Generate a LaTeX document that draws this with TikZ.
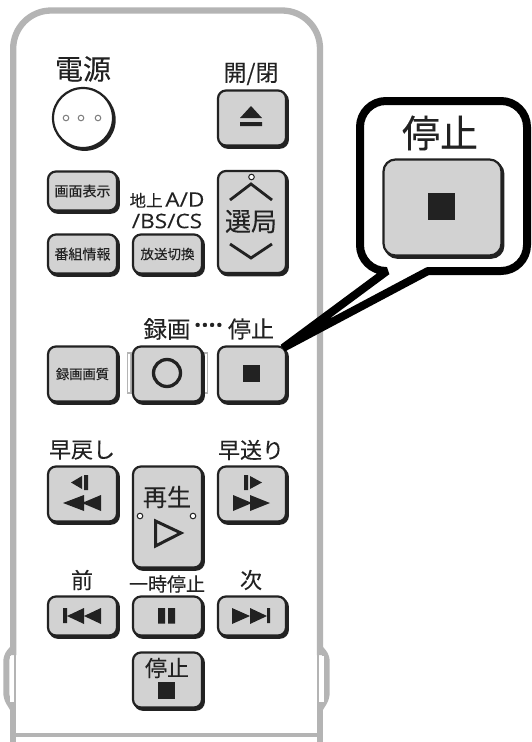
\documentclass[tikz,border=0pt]{standalone}
\usepackage{fontspec}
\setmainfont{Noto Sans CJK JP}[FakeBold=0.15]
\newfontfamily\latinfont{Open Sans}[FakeStretch=1.13,FakeBold=0.1]
\usetikzlibrary{shadows}
\definecolor{ink}{HTML}{222222}
\definecolor{keyfill}{HTML}{D2D2D2}
\definecolor{shell}{HTML}{B4B4B4}
\newcommand{\fs}[1]{\fontsize{#1}{#1}\selectfont}
\tikzset{
  x=1pt,y=-1pt,
  keybtn/.style={draw=ink,line width=2.2pt,fill=keyfill,rounded corners=8pt,inner sep=0pt,
    copy shadow={shadow xshift=1.8pt,shadow yshift=-2.2pt,fill=ink,draw=ink},text=ink},
  lbl/.style={inner sep=0pt,text=ink},
  glyph/.style={fill=ink,draw=none},
}
\begin{document}
\begin{tikzpicture}
\useasboundingbox (0,0) rectangle (531,742);
\fill[white] (0,0) rectangle (531,742);
% shell
\draw[shell,line width=6pt,line join=round,rounded corners=5pt] (13,648) -- (6.3,656) -- (6.3,698) -- (13,709);
\draw[shell,line width=6pt,line join=round,rounded corners=5pt] (320,648) -- (326.7,656) -- (326.7,698) -- (320,709);
\fill[white] (9.5,656) rectangle (14.2,702);
\fill[white] (318.8,656) rectangle (323.5,702);
\draw[shell,line width=6.3pt,rounded corners=38pt] (13.2,655) -- (13.2,10.5) -- (320,10.5) -- (320,655);
\draw[shell,line width=1.8pt] (15,654) -- (15,703) (318,654) -- (318,703);
\draw[shell,line width=6.3pt] (13.2,702) -- (13.2,742) (320,702) -- (320,742);
\draw[shell,line width=4pt] (13,735) -- (320,735);
% labels
\node[lbl] (lpower) at (83,69) {\fs{28}電源};
\node[lbl] (lopen) at (251,74) {\fs{23}開/閉};
\node[lbl] (lter) at (167,200) {\fs{16.5}地上\,\fs{20}\latinfont A/D};
\node[lbl] (lbs) at (167,221) {\fs{20}\latinfont /BS/CS};
\node[lbl] (lrec) at (167,329) {\fs{23.5}録画};
\node[lbl] (ldots) at (208.5,327) {\fs{17}\latinfont ••••};
\node[lbl] (lstp) at (251,329) {\fs{23}停止};
\node[lbl] (lrew) at (82,450) {\fs{22}早戻し};
\node[lbl] (lff) at (251,450) {\fs{22}早送り};
\node[lbl] (lprev) at (82,580) {\fs{22}前};
\node[lbl] (lpause) at (167,584) {\fs{19}一時停止};
\node[lbl] (lnext) at (251,580) {\fs{22}次};
% power
\node[circle,draw=ink,line width=2.2pt,fill=white,minimum size=60pt,inner sep=0pt,
  copy shadow={shadow xshift=1.6pt,shadow yshift=-1.8pt,fill=ink,draw=ink}] (power) at (83,118) {};
\foreach \dx in {66,81,98} \draw[shell!70!black,line width=1pt,fill=white] (\dx,118) circle (2.8);
% buttons
\node[keybtn,minimum width=68pt,minimum height=55pt] (eject) at (252,118) {};
\node[keybtn,minimum width=69pt,minimum height=39pt] (disp) at (82.5,191) {\fs{14}画面表示};
\node[keybtn,minimum width=69pt,minimum height=39pt] (info) at (82.5,254) {\fs{14}番組情報};
\node[keybtn,minimum width=69pt,minimum height=39pt] (switch) at (167.5,254) {\fs{13.5}放送切換};
\node[keybtn,minimum width=68pt,minimum height=102pt] (chan) at (252,222) {};
\node[lbl] (lchan) at (251,221.5) {\fs{26}選局};
\draw[shell,line width=1.3pt,fill=white] (127.5,353) rectangle (131,393) (204,353) rectangle (207.5,393);
\node[keybtn,minimum width=69pt,minimum height=55pt] (qual) at (82.5,374) {\fs{13.3}録画画質};
\node[keybtn,minimum width=69pt,minimum height=55pt] (rec) at (167.5,374) {};
\node[keybtn,minimum width=68pt,minimum height=55pt] (stop) at (252,374) {};
\node[keybtn,minimum width=69pt,minimum height=55pt] (rew) at (82.5,494) {};
\node[keybtn,minimum width=68pt,minimum height=55pt] (ff) at (252,494) {};
\node[keybtn,minimum width=69pt,minimum height=101pt] (play) at (167.5,517) {};
\node[lbl] (lplay) at (167,497) {\fs{24}再生};
\node[keybtn,minimum width=69pt,minimum height=39pt] (prev) at (82.5,616) {};
\node[keybtn,minimum width=69pt,minimum height=39pt] (pause) at (167.5,616) {};
\node[keybtn,minimum width=68pt,minimum height=39pt] (next) at (252,616) {};
\node[keybtn,minimum width=69pt,minimum height=55pt] (stopb) at (167.5,680) {};
\node[lbl] (lstopb) at (167,668) {\fs{22}停止};
% eject glyph
\fill[glyph] (240,118) -- (251,106) -- (262,118) -- cycle (240,122) rectangle (262,126);
% channel glyphs
\draw[ink,line width=2.8pt] (230,200) -- (251,184) -- (272,200);
\draw[ink,line width=1pt,fill=white] (251.5,177) circle (2.8);
\draw[ink,line width=2.8pt] (230,244) -- (251,258) -- (272,244);
% rec / stop
\draw[ink,line width=3.3pt] (167,373) circle (13.5);
\fill[glyph] (243,365) rectangle (260,382);
% rew
\fill[glyph] (71,482.5) -- (82,476) -- (82,489) -- cycle (84,475) rectangle (88,490);
\fill[glyph] (63,503) -- (84,495) -- (84,511) -- cycle (82,503) -- (101,495) -- (101,511) -- cycle;
% ff
\fill[glyph] (244,475) rectangle (248,490) (250,476) -- (262,482.5) -- (250,489) -- cycle;
\fill[glyph] (233,495) -- (252,503) -- (233,511) -- cycle (250,495) -- (270,503) -- (250,511) -- cycle;
% play
\draw[ink,line width=3pt,miter limit=5] (155.5,521) -- (181,533) -- (155.5,546) -- cycle;
\draw[ink,line width=1pt,fill=white] (140,516) circle (2.8) (193,516) circle (2.8);
% prev pause next
\fill[glyph] (63,608) rectangle (67,623) (67,616) -- (84,608) -- (84,624) -- cycle (84,616) -- (101,608) -- (101,624) -- cycle;
\fill[glyph] (158,608) rectangle (165,623.5) (168,608) rectangle (175,623.5);
\fill[glyph] (232,608) -- (250,616) -- (232,624) -- cycle (250,608) -- (267,616) -- (250,624) -- cycle (267,608) rectangle (270,623);
\fill[glyph] (158,682) rectangle (175,699);
% callout
\coordinate (tip) at (283,348);
\path[draw=black,line width=8pt,fill=white,line join=bevel]
  (387,271) [rounded corners=26pt] -- (360,271) -- (360,101) -- (527,101) -- (527,271) [sharp corners] -- (428,271) -- (tip) -- cycle;
\node[lbl] (lzoom) at (440,133) {\fs{38}停止};
\node[keybtn,minimum width=118pt,minimum height=96pt,rounded corners=12pt] (zoomstop) at (442.5,207.5) {};
\fill[glyph] (428,193) rectangle (455,220);
\end{tikzpicture}
\end{document}
